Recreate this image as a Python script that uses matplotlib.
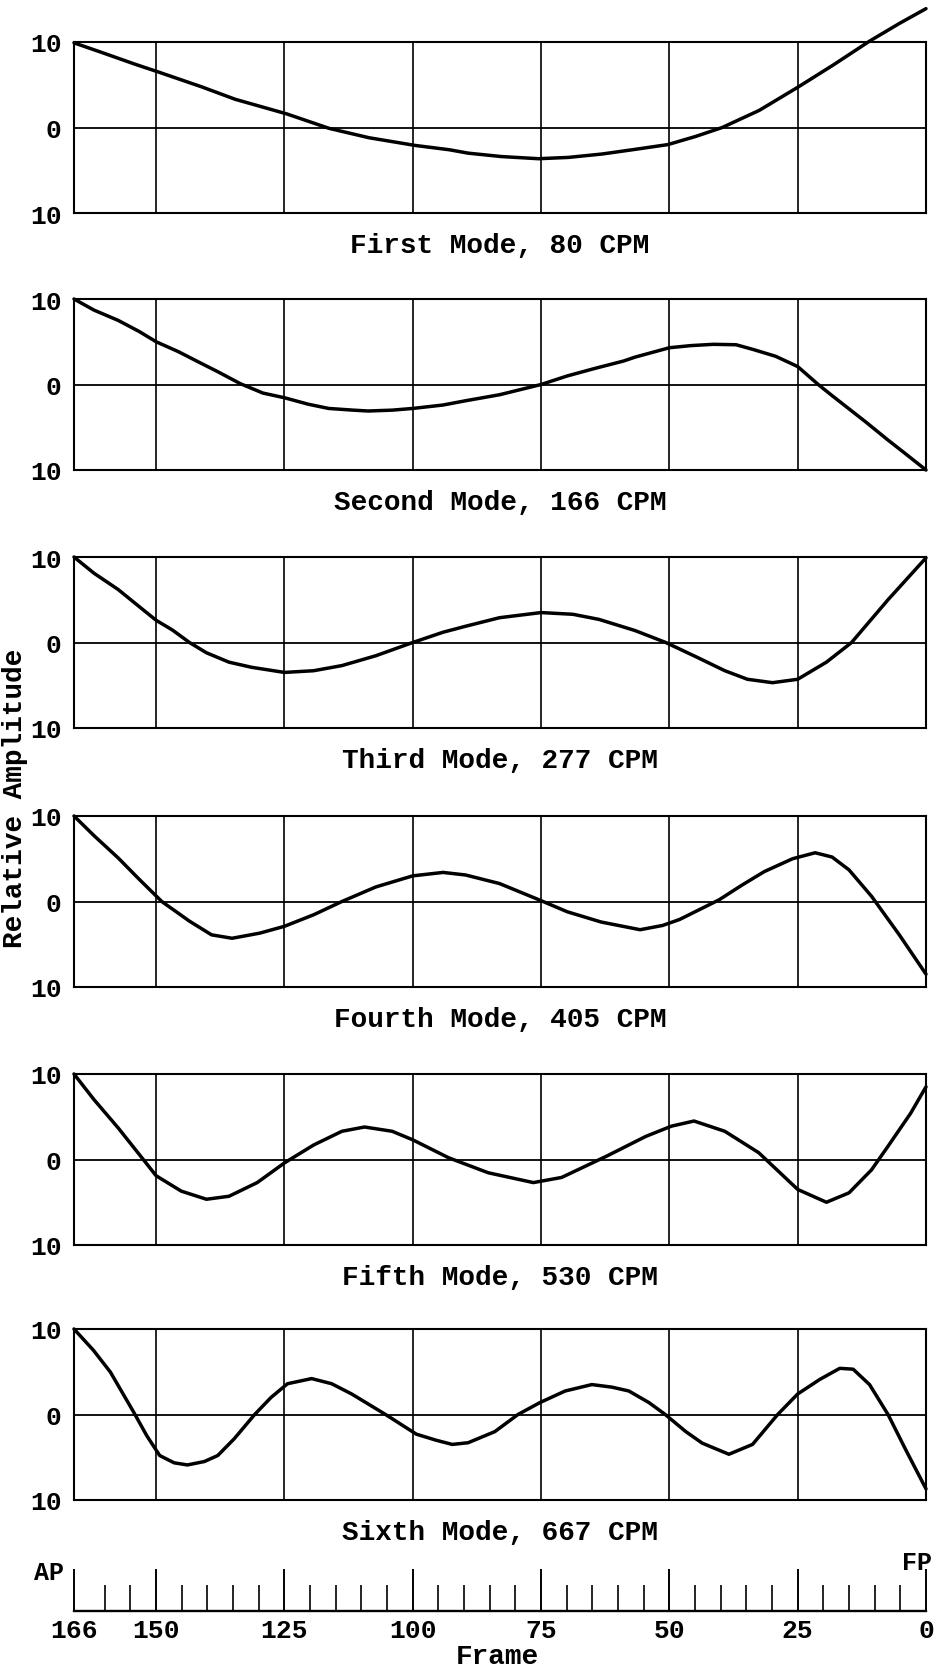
import matplotlib
matplotlib.use("Agg")
import matplotlib.pyplot as plt

plt.rcParams['font.family'] = ['Liberation Mono', 'DejaVu Sans Mono']

# ---------------- data (frame number, relative amplitude) ----------------
mode1_frame = [166, 160.7, 154.1, 149.6, 141.1, 134.6, 124.6, 116.3, 108.5, 99.5, 92.9, 89.2, 82.7, 75.5,
               69.7, 63.1, 56.6, 50.3, 44.9, 39.7, 32.5, 25, 18.1, 11, 5.1, 0]
mode1_amp   = [9.9, 8.8, 7.4, 6.5, 4.75, 3.3, 1.6, -0.1, -1.2, -2.1, -2.6, -3.0, -3.4, -3.65,
               -3.5, -3.1, -2.55, -2.0, -1.05, 0, 2.0, 4.7, 7.3, 10.1, 12.2, 13.9]

mode2_frame = [166, 162.1, 157.4, 153.3, 150, 145.7, 141.3, 138, 133.6, 129.2, 125, 120.4, 116.4, 111.6,
               108.7, 104, 100, 94.1, 89.7, 83.1, 75, 69.9, 64.4, 58.9, 56.7, 50, 45.8, 41.4, 37,
               33.7, 29.3, 25, 21, 18.3, 15, 11.7, 7.4, 4.1, 0]
mode2_amp   = [10, 8.7, 7.5, 6.2, 5.0, 3.85, 2.5, 1.5, 0.1, -1.0, -1.55, -2.3, -2.8, -3.0,
               -3.1, -3.0, -2.8, -2.4, -1.9, -1.2, 0, 1.0, 1.9, 2.75, 3.2, 4.3, 4.55, 4.7, 4.65,
               4.1, 3.3, 2.1, 0, -1.3, -2.85, -4.4, -6.5, -8.05, -10]

mode3_frame = [166, 162.1, 157.4, 153.3, 150, 146.8, 143.5, 140.2, 135.8, 131.4, 125, 119.3, 113.8, 107.2,
               100, 94.1, 89.7, 83.1, 75, 68.8, 63.7, 56.7, 50.7, 44.7, 39.2, 34.8, 29.9, 25, 19.4,
               14.5, 7.4, 0]
mode3_amp   = [10, 8.1, 6.2, 4.2, 2.6, 1.45, 0, -1.2, -2.3, -2.9, -3.5, -3.3, -2.7, -1.55,
               0, 1.2, 1.9, 2.9, 3.5, 3.3, 2.7, 1.4, 0, -1.7, -3.3, -4.3, -4.7, -4.3, -2.3,
               0, 5.0, 9.9]

mode4_frame = [166, 162.1, 157.4, 153.3, 148.9, 143.5, 139.2, 135.2, 129.8, 125, 119.3, 113.8, 107.2,
               100, 94.1, 89.7, 83.1, 75.4, 69.9, 63.3, 55.7, 51.3, 48, 40.3, 35.9, 31.5, 26, 21.6,
               18.3, 15, 10.6, 5.2, 0]
mode4_amp   = [10, 7.7, 5.1, 2.6, 0, -2.3, -3.9, -4.3, -3.7, -2.9, -1.55, 0, 1.7,
               3.0, 3.4, 3.1, 2.1, 0.2, -1.2, -2.4, -3.3, -2.8, -2.1, 0.2, 1.9, 3.5, 5.0, 5.7,
               5.2, 3.7, 0.6, -3.9, -8.5]

mode5_frame = [166, 162.1, 157.4, 152.5, 150, 145.1, 140.2, 135.8, 130.3, 125, 119.3, 113.8, 109.4, 104,
               100, 93, 85.3, 76.5, 71, 62.2, 54.6, 49.6, 45.2, 39.2, 32.6, 25, 19.4, 15, 10.6, 7.4,
               3, 0]
mode5_amp   = [10, 7.0, 3.7, 0, -1.9, -3.7, -4.65, -4.3, -2.7, -0.4, 1.7, 3.3, 3.8, 3.3,
               2.3, 0.2, -1.55, -2.7, -2.1, 0.4, 2.7, 3.9, 4.5, 3.3, 0.8, -3.5, -5.0, -3.9, -1.2, 1.55,
               5.4, 8.5]

mode6_frame = [166, 162.2, 158.9, 154.4, 151.8, 149.3, 146.5, 143.9, 140.6, 138, 134.8, 130.8, 127.6,
               124.4, 119.7, 115.8, 111.9, 105.3, 99.3, 95.5, 92.3, 89.2, 84, 79.5, 75.2, 70.3, 65.1,
               61.2, 57.9, 54, 50.8, 46.8, 43.6, 38.4, 33.8, 28.9, 25, 20.7, 16.8, 14.2, 11, 7.4,
               3.8, 0]
mode6_amp   = [10, 7.5, 4.95, 0.3, -2.5, -4.8, -5.65, -5.9, -5.5, -4.8, -2.85, 0, 2.0,
               3.6, 4.2, 3.6, 2.4, 0, -2.3, -3.0, -3.5, -3.3, -2.0, 0, 1.4, 2.75, 3.5,
               3.2, 2.75, 1.4, 0, -2.0, -3.35, -4.65, -3.5, 0, 2.4, 4.1, 5.4, 5.3, 3.5, 0,
               -4.3, -8.7]

mode_titles = ["First Mode, 80 CPM", "Second Mode, 166 CPM", "Third Mode, 277 CPM",
               "Fourth Mode, 405 CPM", "Fifth Mode, 530 CPM", "Sixth Mode, 667 CPM"]

grid_frames = [150, 125, 100, 75, 50, 25]
amp_ticks = [-10, 0, 10]
amp_tick_labels = ["10", "0", "10"]

scale_major = [166, 150, 125, 100, 75, 50, 25, 0]
scale_major_labels = ["166", "150", "125", "100", "75", "50", "25", "0"]
scale_minor = [f for f in range(5, 165, 5) if f not in scale_major]

frames = [mode1_frame, mode2_frame, mode3_frame, mode4_frame, mode5_frame, mode6_frame]
amps = [mode1_amp, mode2_amp, mode3_amp, mode4_amp, mode5_amp, mode6_amp]

# ---------------- layout ----------------
W, H = 940, 1674
fig = plt.figure(figsize=(W / 100, H / 100), dpi=100)
fig.patch.set_facecolor('white')

left, right = 74, 926
panel_tops = [43, 300, 558, 817, 1075, 1330]
panel_h = 171

def fx(px):
    return px / W

def fy(py):
    return 1 - py / H

for i in range(6):
    top = panel_tops[i]
    ax = fig.add_axes([fx(left), fy(top + panel_h), (right - left) / W, panel_h / H])
    ax.set_xlim(166, 0)
    ax.set_ylim(-10, 10)
    ax.set_xticks([])
    ax.set_yticks(amp_ticks)
    ax.set_yticklabels(amp_tick_labels, fontsize=19, fontweight='bold')
    ax.tick_params(axis='y', length=0, pad=9)
    for v in grid_frames:
        ax.axvline(v, color='black', lw=1.2, zorder=1)
    ax.axhline(0, color='black', lw=1.3, zorder=1)
    for s in ax.spines.values():
        s.set_linewidth(1.5)
    ax.plot(frames[i], amps[i], color='black', lw=2.5, clip_on=False,
            solid_joinstyle='round', solid_capstyle='round', zorder=3)
    ax.text(0.5, -32 / panel_h, mode_titles[i], transform=ax.transAxes,
            ha='center', va='center', fontsize=20, fontweight='bold')

# ---------------- frame scale ----------------
base_y = 1612
sax = fig.add_axes([fx(left), fy(base_y), (right - left) / W, 50 / H])
sax.set_xlim(166, 0)
sax.set_ylim(0, 1)
sax.patch.set_visible(False)
for k in ['top', 'left', 'right']:
    sax.spines[k].set_visible(False)
sax.spines['bottom'].set_linewidth(1.7)
sax.set_yticks([])
sax.set_xticks(scale_major)
sax.set_xticklabels(scale_major_labels, fontsize=19, fontweight='bold')
sax.set_xticks(scale_minor, minor=True)
sax.tick_params(axis='x', which='major', direction='in', length=30, width=1.4, pad=5)
sax.tick_params(axis='x', which='minor', direction='in', length=18.5, width=1.2)

fig.text(fx(49), fy(1573), "AP", ha='center', va='center', fontsize=18, fontweight='bold')
fig.text(fx(917), fy(1563), "FP", ha='center', va='center', fontsize=18, fontweight='bold')
fig.text(fx(497), fy(1657), "Frame", ha='center', va='center', fontsize=20, fontweight='bold')
fig.text(fx(15), fy(798), "Relative Amplitude", ha='center', va='center',
         rotation=90, fontsize=20, fontweight='bold')

fig.savefig("out.png", dpi=100)
